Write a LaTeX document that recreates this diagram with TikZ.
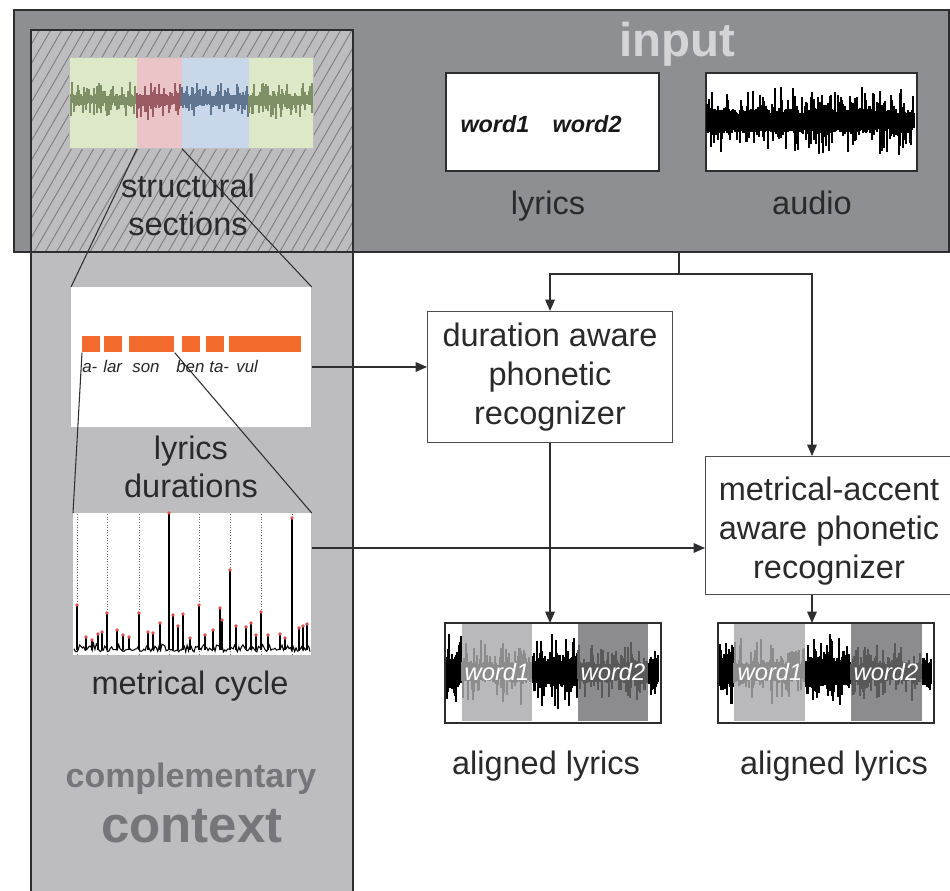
\documentclass[tikz,border=0pt]{standalone}
\usepackage{fontspec}
\setmainfont{Liberation Sans}
\usetikzlibrary{patterns.meta,arrows.meta,calc}
\definecolor{inputgray}{HTML}{8E8F93}
\definecolor{ctxgray}{HTML}{BDBDC0}
\definecolor{hatchgray}{HTML}{808084}
\definecolor{edge}{HTML}{2E2E30}
\definecolor{txt}{HTML}{2A2A2A}
\definecolor{inputtxt}{HTML}{D4D4D7}
\definecolor{ctxtxt}{HTML}{76767A}
\definecolor{secgreen}{HTML}{DDE8C8}
\definecolor{secpink}{HTML}{EBC4C7}
\definecolor{secblue}{HTML}{C8D8EA}
\definecolor{wavegreen}{HTML}{7F8F66}
\definecolor{wavepink}{HTML}{9A5A62}
\definecolor{waveblue}{HTML}{5F7590}
\definecolor{barorange}{HTML}{F26A2C}
\definecolor{seglight}{HTML}{B9B9BC}
\definecolor{segdark}{HTML}{8C8C8F}
\definecolor{peak}{HTML}{E0504F}
\newcommand\drawwave[6]{%
  \pgfmathtruncatemacro\wn{(#2-#1)}%
  \foreach \i in {0,...,\wn}{%
    \pgfmathsetmacro\wx{#1+\i}%
    \pgfmathsetmacro\wu{#4*(0.55+0.45*rnd)+#5*rnd^4}%
    \pgfmathsetmacro\wd{#4*(0.55+0.45*rnd)+#5*rnd^4}%
    \draw[#6] (\wx,#3-\wu) -- (\wx,#3+\wd);%
  }}
\begin{document}
\begin{tikzpicture}[x={(0.02cm,0)}, y={(0,-0.02cm)},
  box/.style 2 args={rectangle, inner sep=0pt, anchor=north west, minimum width=(#1)*0.02cm, minimum height=(#2)*0.02cm},
  lab/.style={font=\fontsize{18.5}{22}\selectfont, text=txt, align=center, inner sep=0pt},
  syl/.style={font=\fontsize{9.6}{11}\selectfont\itshape, text=black!85, inner sep=0pt, anchor=base west},
  word/.style={font=\fontsize{13.5}{15}\selectfont\itshape, text=white, inner sep=0pt},
  panel/.style={draw=edge, line width=1.2pt},
  conn/.style={draw=edge, line width=0.7pt},
  arr/.style={conn, -{Triangle[length=6.5pt,width=5.5pt]}},
  zoomline/.style={draw=edge, line width=0.6pt},
  procbox/.style 2 args={box={#1}{#2}, draw=edge!85, line width=0.6pt, fill=white},
]
\pgfmathsetseed{12345}
\clip (0,0) rectangle (950,891);
\fill[white] (0,0) rectangle (950,891);

% panels
\node[box={934}{241}, fill=inputgray] (inputbox) at (14,10) {};
\node[box={321}{880}, fill=ctxgray] (ctxbox) at (31,30) {};
\path[pattern={Lines[angle=60,distance=5.5pt,line width=0.55pt]}, pattern color=hatchgray]
  (ctxbox.north west) rectangle (ctxbox.east |- inputbox.south);
\draw[panel] (inputbox.north west) rectangle (inputbox.south east);
\draw[panel] (ctxbox.south west) -- (ctxbox.north west) -- (ctxbox.north east) -- (ctxbox.south east);

% input
\node[font=\fontsize{27}{30}\selectfont\bfseries, text=inputtxt] (inputlabel) at (677,44) {input};
\node[box={213}{98}, fill=white, draw=edge, line width=1pt] (lyrbox) at (445,72) {};
\node[font=\fontsize{13.3}{15}\selectfont\bfseries\itshape, text=black!90] (lyrtext) at (541,124) {word1\quad word2};
\node[box={211}{98}, fill=white, draw=edge, line width=1pt] (audiobox) at (705,72) {};
\drawwave{707}{914}{121}{12}{24}{black,line width=0.75pt}
\node[lab] (lyrlabel) at (548,206) {lyrics};
\node[lab] (audiolabel) at (812,203) {audio};

% structural sections
\node[box={244}{91}] (ss) at (69,57) {};
\fill[secgreen] (69,57) rectangle (137,148);
\fill[secpink] (137,57) rectangle (182,148);
\fill[secblue] (182,57) rectangle (249,148);
\fill[secgreen] (249,57) rectangle (313,148);
\drawwave{70}{136}{100}{5}{14}{wavegreen,line width=0.6pt}
\drawwave{137}{181}{100}{6}{16}{wavepink,line width=0.6pt}
\drawwave{182}{248}{100}{5}{14}{waveblue,line width=0.6pt}
\drawwave{249}{312}{100}{5}{14}{wavegreen,line width=0.6pt}
\draw[gray!50, line width=0.4pt] (ss.north west) rectangle (ss.south east);
\node[lab] (sslabel) at (188,205) {structural\\sections};

% lyrics durations
\node[box={240}{140}, fill=white] (ld) at (71,287) {};
\foreach \a/\b [count=\k] in {82/100,104/122,129/174,182/200,206/224,229/301}
  \node[box={\b-\a}{16}, fill=barorange] (bar\k) at (\a,336) {};
\foreach \sx/\st [count=\k] in {82/a-,103/lar,132/son,176/ben,209/ta-,236/vul}
  \node[syl] (syl\k) at (\sx,373) {\st};
\node[lab] (ldlabel) at (191,467) {lyrics\\durations};

% metrical cycle
\node[box={238}{142}, fill=white] (mc) at (73,513) {};
\foreach \gx in {77,107,139,169,199,230,261,292}
  \draw[black!60, densely dotted, line width=0.5pt] (\gx,514) -- (\gx,654);
\draw[black, line width=0.6pt] plot[domain=74:310, samples=170] (\x,{650-7*rnd^2+2*rnd});
\draw[black, line width=1.6pt] (169,649) -- (169,605);
\foreach \sx/\sy in {77/605,107/613,139/613,169/513,199/605,230/570,261/612,292/518,
  98/634,102/632,117/630,123/635,129/637,148/632,153/633,160/623,173/615,178/626,183/614,
  213/630,220/608,222/620,236/626,246/627,251/623,256/635,268/635,299/628,303/626,307/624,
  86/637,92/640,190/638,205/635,280/634,285/638}{
  \draw[black, line width=0.7pt] (\sx,650) -- (\sx,\sy);
  \fill[peak] (\sx,\sy) circle[radius=1.1pt];
}
\node[lab] (mclabel) at (190,686) {metrical cycle};

% zoom lines
\draw[zoomline] ($(ss.south west)+(68,0)$) -- (ld.north west);
\draw[zoomline] ($(ss.south west)+(113,0)$) -- (ld.north east);
\draw[zoomline] (bar1.south west) -- (mc.north west);
\draw[zoomline] (bar3.south east) -- (mc.north east);

% complementary context
\node[font=\fontsize{19.3}{22}\selectfont\bfseries, text=ctxtxt] (comp) at (191,779) {complementary};
\node[font=\fontsize{29}{32}\selectfont\bfseries, text=ctxtxt] (ctxword) at (192,826) {context};

% recognizers
\node[procbox={245}{131}, lab] (dur) at (427,311) {duration aware\\phonetic\\recognizer};
\node[procbox={247}{138}] (met) at (705,456) {};
\node[lab] (metlabel) at (829,531) {metrical-accent\\aware phonetic\\recognizer};

% aligned lyrics 1
\node[box={215}{99}, fill=white] (al1) at (445,623) {};
\fill[seglight] (462,624) rectangle (532,721);
\fill[segdark] (578,624) rectangle (648,721);
\drawwave{447}{461}{672}{18}{28}{black,line width=0.7pt}
\drawwave{462}{531}{672}{10}{25}{black!45,line width=0.7pt}
\drawwave{533}{577}{672}{16}{24}{black,line width=0.7pt}
\drawwave{578}{647}{672}{10}{22}{black!65,line width=0.7pt}
\drawwave{649}{658}{672}{14}{10}{black,line width=0.7pt}
\node[word] (w11) at (497,672) {word1};
\node[word] (w12) at (613,672) {word2};
\draw[edge, line width=1.2pt] (al1.north west) rectangle (al1.south east);

% aligned lyrics 2
\node[box={215}{99}, fill=white] (al2) at (718,623) {};
\fill[seglight] (734,624) rectangle (805,721);
\fill[segdark] (851,624) rectangle (922,721);
\drawwave{720}{733}{672}{18}{28}{black,line width=0.7pt}
\drawwave{734}{804}{672}{10}{25}{black!45,line width=0.7pt}
\drawwave{806}{850}{672}{16}{24}{black,line width=0.7pt}
\drawwave{851}{921}{672}{10}{22}{black!65,line width=0.7pt}
\drawwave{923}{931}{672}{14}{10}{black,line width=0.7pt}
\node[word] (w21) at (770,672) {word1};
\node[word] (w22) at (886,672) {word2};
\draw[edge, line width=1.2pt] (al2.north west) rectangle (al2.south east);

\node[lab] (al1cap) at (546,766) {aligned lyrics};
\node[lab] (al2cap) at (834,766) {aligned lyrics};

% connectors
\coordinate (split) at (679,274);
\draw[conn] (inputbox.south -| split) -- (split);
\draw[arr] (split) -| (dur.north);
\draw[arr] (split) -| ($(met.north west)+(107,0)$);
\draw[arr] ($(met.south west)+(107,0)$) -- ($(al2.north west)+(94,0)$);
\draw[arr] (dur.south) -- (dur.south |- al1.north);
\coordinate (ldout) at ($(ld.north east)+(0,80)$);
\draw[arr] (ldout) -- (ldout -| dur.west);
\coordinate (mcout) at ($(mc.north east)+(0,35)$);
\draw[arr] (mcout) -- (mcout -| met.west);
\end{tikzpicture}
\end{document}
